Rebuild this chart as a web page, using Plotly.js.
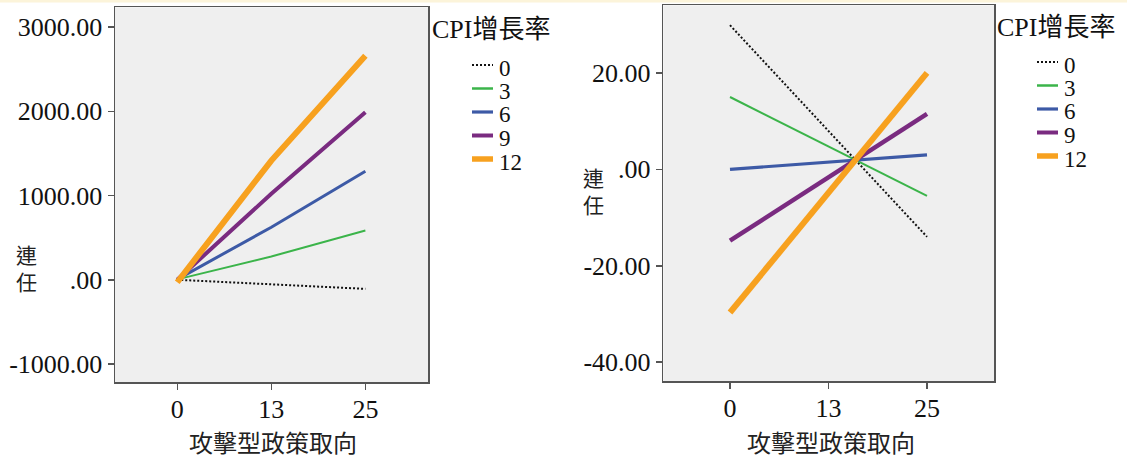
<!DOCTYPE html>
<html>
<head>
<meta charset="utf-8">
<script src="https://cdn.plot.ly/plotly-3.0.1.min.js"></script>
<style>
  html, body { margin: 0; padding: 0; background: #ffffff; }
  #chart { width: 1127px; height: 459px; }
</style>
</head>
<body>
<div id="chart"></div>
<script>
// ---------- data ----------
const xCategories = ['0', '13', '25'];          // 攻擊型政策取向
const seriesNames = ['0', '3', '6', '9', '12']; // CPI增長率

// left panel (連任)
const leftCPI0  = [0, -52, -108];
const leftCPI3  = [5, 276, 585];
const leftCPI6  = [5, 624, 1289];
const leftCPI9  = [0, 1020, 1989];
const leftCPI12 = [-29, 1415, 2660];

// right panel (連任)
const rightCPI0  = [29.9, 8.0, -14.0];
const rightCPI3  = [15.0, 4.7, -5.5];
const rightCPI6  = [0.0, 1.5, 3.0];
const rightCPI9  = [-14.8, -1.6, 11.5];
const rightCPI12 = [-29.7, -4.9, 20.0];

const leftTickVals  = [-1000, 0, 1000, 2000, 3000];
const leftTickText  = ['-1000.00', '.00', '1000.00', '2000.00', '3000.00'];
const rightTickVals = [-40, -20, 0, 20];
const rightTickText = ['-40.00', '-20.00', '.00', '20.00'];

const legendTitle = 'CPI增長率';
const yTitle = '連<br>任';
const xTitle = '攻擊型政策取向';

// ---------- styles ----------
const colors = ['#111111', '#3bb44a', '#3d5aa6', '#7a2b80', '#f7a11f'];
const widthsL = [2, 2, 3, 4, 6];
const widthsR = [2, 2, 3.2, 4.5, 6];
const dashes = ['2px,2px', 'solid', 'solid', 'solid', 'solid'];

const W = 1127, H = 459;
const fx = p => p / W;
const fy = p => 1 - p / H;

const leftData  = [leftCPI0, leftCPI3, leftCPI6, leftCPI9, leftCPI12];
const rightData = [rightCPI0, rightCPI3, rightCPI6, rightCPI9, rightCPI12];

const traces = [];
leftData.forEach((ys, i) => traces.push({
  type: 'scatter', mode: 'lines', x: xCategories, y: ys, name: seriesNames[i],
  xaxis: 'x', yaxis: 'y', showlegend: false,
  line: { color: colors[i], width: widthsL[i], dash: dashes[i] }
}));
rightData.forEach((ys, i) => traces.push({
  type: 'scatter', mode: 'lines', x: xCategories, y: ys, name: seriesNames[i],
  xaxis: 'x2', yaxis: 'y2', showlegend: false,
  line: { color: colors[i], width: widthsR[i], dash: dashes[i] }
}));

const serif = 'Liberation Serif';
const tickFont = { family: serif, size: 26, color: '#111' };
const axisCommon = {
  showline: true, mirror: true, linecolor: '#555', linewidth: 1.5,
  ticks: 'outside', ticklen: 6, tickwidth: 1.5, tickcolor: '#555',
  showgrid: false, zeroline: false, tickfont: tickFont, fixedrange: true
};

const cjk = 'Noto Sans CJK TC';
const annotations = [];
const shapes = [];

// top pale band
shapes.push({ type: 'rect', xref: 'paper', yref: 'paper', x0: 0, x1: 1, y0: fy(2.5), y1: 1,
  fillcolor: '#fcf4da', line: { width: 0 }, layer: 'below' });

function addPanelText(dx, yTitlePos, legendDy, xTitleX) {
  // y title (characters stacked vertically)
  annotations.push({
    xref: 'paper', yref: 'paper', x: fx(yTitlePos.x), y: fy(yTitlePos.y),
    xanchor: 'center', yanchor: 'middle', showarrow: false, text: yTitle,
    borderpad: 0,
    font: { family: cjk, size: 21, color: '#222' }
  });
  // x title
  annotations.push({
    xref: 'paper', yref: 'paper', x: fx(xTitleX), y: fy(441.5),
    xanchor: 'center', yanchor: 'middle', showarrow: false, text: xTitle,
    borderpad: 0,
    font: { family: cjk, size: 24, color: '#222' }
  });
  // legend title
  annotations.push({
    xref: 'paper', yref: 'paper', x: fx(430 + dx), y: fy(30 + legendDy),
    xanchor: 'left', yanchor: 'middle', showarrow: false, text: legendTitle,
    font: { family: serif + ', ' + cjk, size: 26, color: '#111' }
  });
  // legend entries
  seriesNames.forEach((n, i) => {
    const ty = 68 + i * 23.5 + legendDy;
    annotations.push({
      xref: 'paper', yref: 'paper', x: fx(497 + dx), y: fy(ty),
      xanchor: 'left', yanchor: 'middle', showarrow: false, text: n,
      font: { family: serif, size: 23, color: '#111' }
    });
    shapes.push({
      type: 'line', xref: 'paper', yref: 'paper',
      x0: fx(472 + dx), x1: fx(493 + dx), y0: fy(ty - 3), y1: fy(ty - 3),
      line: { color: colors[i], width: [2, 2.5, 3.2, 4, 5.5][i], dash: dashes[i] }
    });
  });
}
addPanelText(0, { x: 26, y: 267 }, 0, 273);
addPanelText(565, { x: 593, y: 191 }, -3, 831);

const layout = {
  width: W, height: H, autosize: false,
  margin: { l: 0, r: 0, t: 0, b: 0, pad: 0 },
  paper_bgcolor: '#ffffff', plot_bgcolor: '#efefef',
  showlegend: false,
  xaxis: Object.assign({}, axisCommon, {
    domain: [fx(115), fx(428.3)], anchor: 'y', type: 'category',
    range: [-0.662, 2.669], ticklabelstandoff: -3
  }),
  yaxis: Object.assign({}, axisCommon, {
    domain: [fy(382.3), fy(7.3)], anchor: 'x',
    range: [-1217, 3234], tickvals: leftTickVals, ticktext: leftTickText
  }),
  xaxis2: Object.assign({}, axisCommon, {
    domain: [fx(663.3), fx(994)], anchor: 'y2', type: 'category',
    range: [-0.677, 2.68], ticklabelstandoff: -3
  }),
  yaxis2: Object.assign({}, axisCommon, {
    domain: [fy(381), fy(5.4)], anchor: 'x2',
    range: [-43.9, 34.0], tickvals: rightTickVals, ticktext: rightTickText
  }),
  annotations: annotations,
  shapes: shapes
};

Plotly.newPlot('chart', traces, layout, { staticPlot: true, displayModeBar: false });
</script>
</body>
</html>
